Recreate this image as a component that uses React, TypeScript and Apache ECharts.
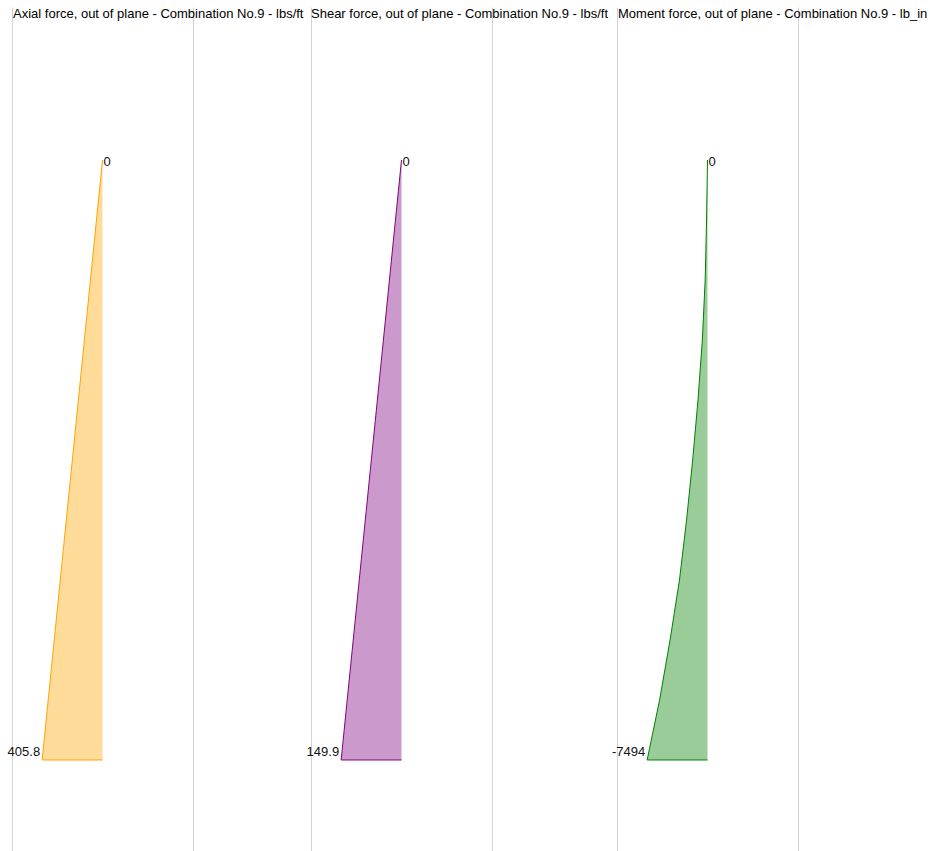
import React, { useEffect, useRef } from "react";
import * as echarts from "echarts";

// Titles of the three diagrams
const titles = [
  "Axial force, out of plane - Combination No.9 - lbs/ft",
  "Shear force, out of plane - Combination No.9 - lbs/ft",
  "Moment force, out of plane - Combination No.9 - lb_in",
];

// Position along the member (0 = top, 1 = bottom)
const axialPos = [0, 1];
const axialVal = [0, 405.8];

const shearPos = [0, 1];
const shearVal = [0, 149.9];

const momentPos = [0, 0.1, 0.2, 0.3, 0.4, 0.5, 0.6, 0.7, 0.8, 0.9, 1];
const momentVal = [0, -115, -290, -640, -1180, -1840, -2600, -3480, -4650, -5950, -7494];

const strokeColors = ["#FFA500", "#800080", "#008000"];
const fillColors = ["rgba(255,165,0,0.4)", "rgba(128,0,128,0.4)", "rgba(0,128,0,0.4)"];

const panels = [
  { pos: axialPos, val: axialVal, inverse: true },
  { pos: shearPos, val: shearVal, inverse: true },
  { pos: momentPos, val: momentVal, inverse: false },
];

const gridLefts = [12, 311, 617];
const titleLefts = [13, 311, 618];
const GRID_W = 181;
const Y_MIN = -0.25333;
const Y_MAX = 1.15167;
const FONT = "Arial, 'Liberation Sans', sans-serif";

function fmt(v: number) {
  return String(v);
}

export default function App() {
  const ref = useRef<HTMLDivElement>(null);

  useEffect(() => {
    if (!ref.current) return;
    const chart = echarts.init(ref.current, undefined, { renderer: "svg" });

    const grid: any[] = [];
    const xAxis: any[] = [];
    const yAxis: any[] = [];
    const series: any[] = [];
    const title: any[] = [];

    panels.forEach((p, i) => {
      const maxAbs = Math.max(...p.val.map((v) => Math.abs(v)));
      grid.push({ left: gridLefts[i], width: GRID_W, top: 8, bottom: 0 });
      title.push({
        text: titles[i],
        left: titleLefts[i],
        top: 7,
        padding: 0,
        textStyle: {
          fontSize: 13,
          fontWeight: "normal",
          color: "#000",
          fontFamily: FONT,
        },
      });
      xAxis.push({
        type: "value",
        gridIndex: i,
        min: -1.5 * maxAbs,
        max: 1.5 * maxAbs,
        inverse: p.inverse,
        show: false,
      });
      const yBase = {
        type: "value",
        gridIndex: i,
        min: Y_MIN,
        max: Y_MAX,
        inverse: true,
        axisLine: { show: true, onZero: false, lineStyle: { color: "#d3d3d3", width: 1 } },
        axisTick: { show: false },
        axisLabel: { show: false },
        splitLine: { show: false },
      };
      yAxis.push({ ...yBase, position: "left" });
      yAxis.push({ ...yBase, position: "right" });

      const data = p.val.map((v, k) => [v, p.pos[k]]);
      const lastPos = p.pos[p.pos.length - 1];
      const lastVal = p.val[p.val.length - 1];

      series.push({
        type: "custom",
        xAxisIndex: i,
        yAxisIndex: i * 2,
        data,
        silent: true,
        renderItem: (params: any, api: any) => {
          if (params.dataIndex !== 0) return null;
          const pts = data.map((d) => api.coord(d));
          const base = api.coord([0, lastPos]);
          const poly = [...pts, base];
          const top = pts[0];
          const end = pts[pts.length - 1];
          return {
            type: "group",
            children: [
              {
                type: "polygon",
                shape: { points: poly },
                style: { fill: fillColors[i], stroke: null },
              },
              {
                type: "polyline",
                shape: { points: poly },
                style: { fill: null, stroke: strokeColors[i], lineWidth: 1 },
              },
              {
                type: "text",
                x: top[0] + 1,
                y: top[1] + 2,
                style: {
                  text: fmt(p.val[0]),
                  fill: "#111",
                  font: "13px " + FONT,
                  align: "left",
                  verticalAlign: "middle",
                },
              },
              {
                type: "text",
                x: end[0] - 2,
                y: end[1] - 8,
                style: {
                  text: fmt(lastVal),
                  fill: "#111",
                  font: "13px " + FONT,
                  align: "right",
                  verticalAlign: "middle",
                },
              },
            ],
          };
        },
      });
    });

    chart.setOption({
      animation: false,
      backgroundColor: "#fff",
      title,
      grid,
      xAxis,
      yAxis,
      series,
    });

    return () => chart.dispose();
  }, []);

  return (
    <div
      ref={ref}
      style={{ position: "fixed", left: 0, top: 0, width: 930, height: 851 }}
    />
  );
}
